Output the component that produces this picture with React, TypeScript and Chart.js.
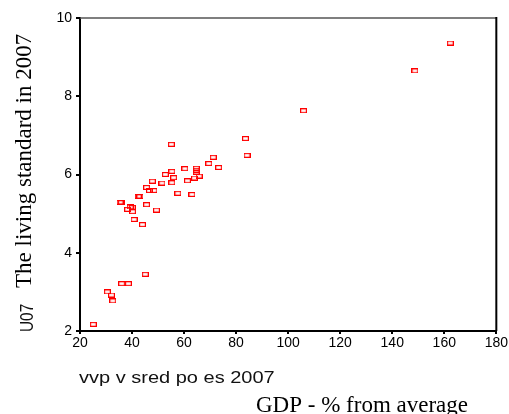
import React, { useEffect, useRef } from "react";
import { Chart, registerables } from "chart.js";

Chart.register(...registerables);

const gdpPercent = [
  25.1, 30.5, 32.1, 32.6, 36.0, 38.6, 45.1, 35.4, 35.9, 38.3, 39.3, 40.1, 40.2, 40.8,
  42.4, 43.0, 44.0, 45.6, 49.4, 45.6, 46.7, 48.4, 47.8, 51.5, 52.8, 55.1, 55.3, 56.0,
  55.3, 57.6, 60.3, 61.3, 63.0, 64.7, 64.7, 64.7, 64.0, 65.8, 69.5, 71.2, 73.3, 83.6,
  84.2, 105.9, 148.7, 162.3,
];
const livingStandard = [
  2.17, 3.0, 2.92, 2.77, 3.21, 3.21, 3.45, 5.29, 5.29, 5.11, 5.17, 5.16, 5.05, 4.85,
  5.44, 5.44, 4.72, 5.23, 5.09, 5.67, 5.59, 5.59, 5.83, 5.78, 6.0, 6.77, 6.08, 5.92,
  5.79, 5.52, 6.15, 5.84, 5.49, 6.16, 6.11, 6.06, 5.91, 5.96, 6.28, 6.44, 6.18, 6.92,
  6.49, 7.63, 8.65, 9.36,
];
const xTicks = [20, 40, 60, 80, 100, 120, 140, 160, 180];
const yTicks = [2, 4, 6, 8, 10];

const xVarLabel = "vvp v sred po es 2007";
const yVarLabel = "U07";
const xTitle = "GDP - % from average";
const yTitle = "The living standard in 2007";

export default function App() {
  const ref = useRef<HTMLCanvasElement | null>(null);

  useEffect(() => {
    const canvas = ref.current;
    if (!canvas) return;
    document.body.style.margin = "0";

    const marker = document.createElement("canvas");
    marker.width = 7;
    marker.height = 5;
    const mctx = marker.getContext("2d")!;
    mctx.strokeStyle = "#ff0000";
    mctx.lineWidth = 1.2;
    mctx.strokeRect(0.6, 0.6, 5.8, 3.8);

    const textPlugin = {
      id: "texts",
      afterDraw(chart: any) {
        const ctx = chart.ctx as CanvasRenderingContext2D;
        const a = chart.chartArea;
        ctx.save();
        ctx.strokeStyle = "#555";
        ctx.lineWidth = 1.5;
        ctx.beginPath();
        ctx.moveTo(a.left, a.top);
        ctx.lineTo(a.right, a.top);
        ctx.stroke();
        ctx.strokeStyle = "#000";
        ctx.lineWidth = 2;
        ctx.beginPath();
        ctx.moveTo(a.right, a.top - 1);
        ctx.lineTo(a.right, a.bottom);
        ctx.stroke();

        ctx.fillStyle = "#111";
        ctx.textBaseline = "alphabetic";
        ctx.textAlign = "left";
        ctx.save();
        ctx.translate(a.left - 1, a.bottom + 52);
        ctx.scale(1.25, 1);
        ctx.font = '16px "Liberation Sans", Arial, sans-serif';
        ctx.fillText(xVarLabel, 0, 0);
        ctx.restore();
        ctx.save();
        ctx.translate(a.left - 47, a.bottom + 1);
        ctx.rotate(-Math.PI / 2);
        ctx.scale(1.1, 1.3);
        ctx.font = '14px "Liberation Sans", Arial, sans-serif';
        ctx.fillText(yVarLabel, 0, 0);
        ctx.restore();
        ctx.fillStyle = "#000";
        ctx.font = '23px "Liberation Serif", "Times New Roman", serif';
        ctx.fillText(xTitle, 256, a.bottom + 81);
        ctx.save();
        ctx.translate(a.left - 49, a.bottom - 43);
        ctx.rotate(-Math.PI / 2);
        ctx.fillText(yTitle, 0, 0);
        ctx.restore();
        ctx.restore();
      },
    };

    const tickFont = { family: '"Liberation Sans", Arial, sans-serif', size: 14 };

    const chart = new Chart(canvas, {
      type: "scatter",
      data: {
        datasets: [
          {
            data: gdpPercent.map((x, i) => ({ x, y: livingStandard[i] })),
            pointStyle: marker as any,
            pointRadius: 3,
            borderColor: "#ff0000",
            backgroundColor: "#ff0000",
          },
        ],
      },
      options: {
        animation: false,
        responsive: false,
        events: [],
        layout: { padding: { left: 0, right: 11, top: 18, bottom: 0 } },
        plugins: { legend: { display: false }, tooltip: { enabled: false }, title: { display: false } },
        scales: {
          x: {
            type: "linear",
            min: xTicks[0],
            max: xTicks[xTicks.length - 1],
            afterBuildTicks: (s: any) => {
              s.ticks = xTicks.map((v) => ({ value: v }));
            },
            afterFit: (s: any) => {
              s.height = 83;
            },
            ticks: { color: "#000", font: tickFont, padding: 1, maxRotation: 0, autoSkip: false },
            grid: { drawOnChartArea: false, drawTicks: true, tickLength: 3, color: "#000", lineWidth: 2 },
            border: { display: true, color: "#000", width: 2 },
          },
          y: {
            type: "linear",
            min: yTicks[0],
            max: yTicks[yTicks.length - 1],
            afterBuildTicks: (s: any) => {
              s.ticks = yTicks.map((v) => ({ value: v }));
            },
            afterFit: (s: any) => {
              s.width = 80;
            },
            ticks: { color: "#000", font: tickFont, padding: 4, autoSkip: false },
            grid: { drawOnChartArea: false, drawTicks: true, tickLength: 4, color: "#000", lineWidth: 2 },
            border: { display: true, color: "#000", width: 2 },
          },
        },
      },
      plugins: [textPlugin],
    });
    return () => chart.destroy();
  }, []);

  return (
    <div style={{ position: "absolute", left: 0, top: 0, width: 509, height: 414, background: "#fff" }}>
      <canvas ref={ref} width={509} height={414} style={{ display: "block" }} />
    </div>
  );
}
